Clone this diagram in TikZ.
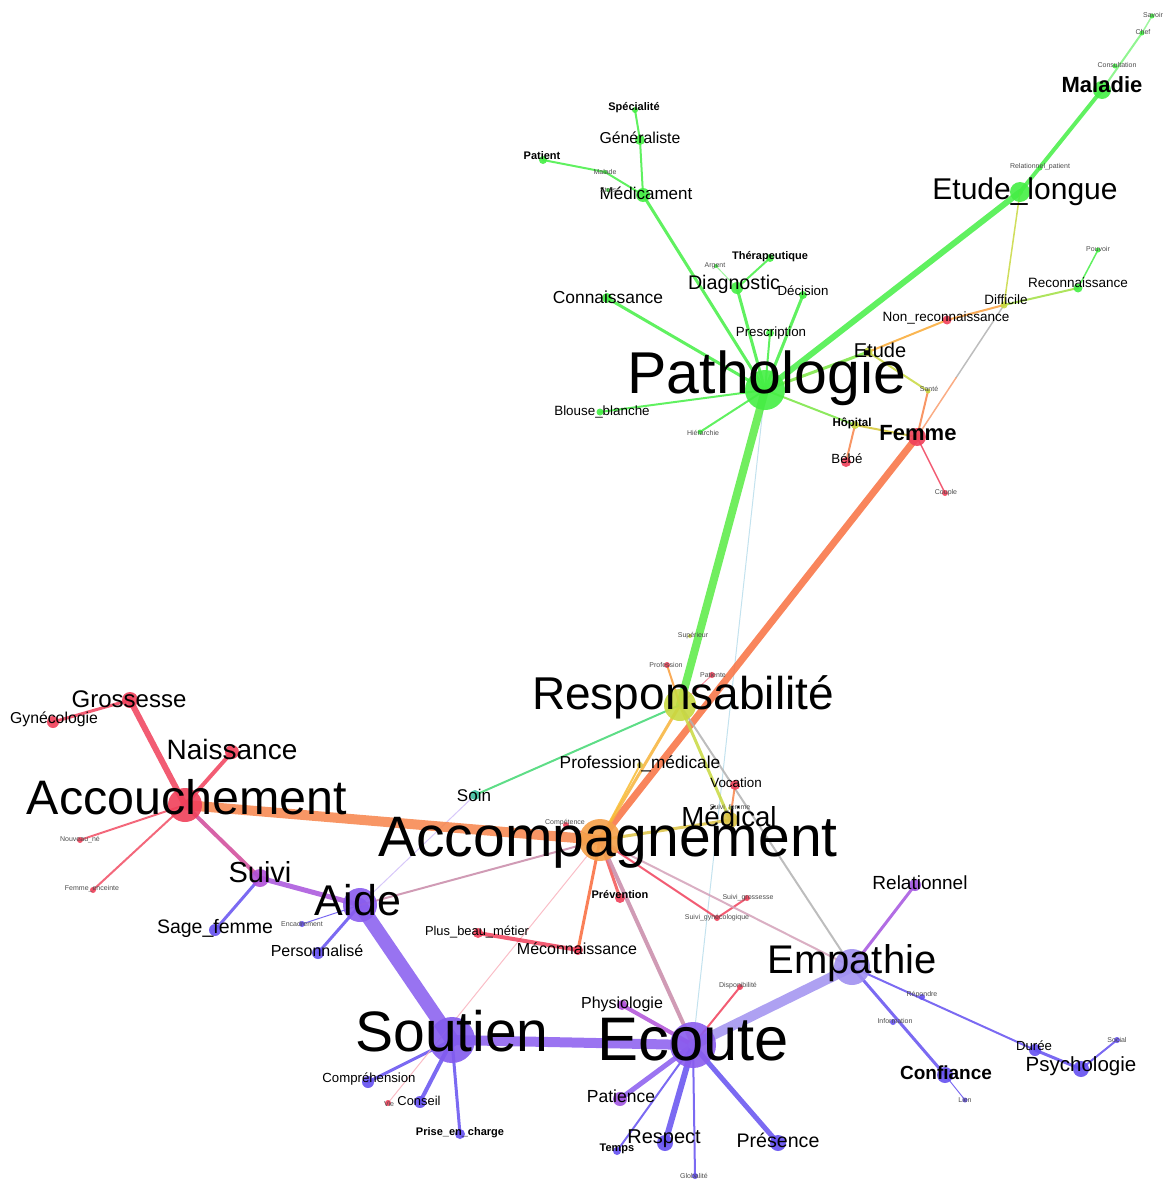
\documentclass[tikz,border=0pt]{standalone}
\usepackage{fontspec}
\setmainfont{Liberation Sans}
\usetikzlibrary{calc}
\definecolor{gG}{HTML}{44EE44}
\definecolor{gR}{HTML}{F0405A}
\definecolor{gO}{HTML}{F7844A}
\definecolor{gP}{HTML}{8A5CEE}
\definecolor{gB}{HTML}{6450F0}
\definecolor{gY}{HTML}{C8D840}
\definecolor{gA}{HTML}{F5A048}
\definecolor{gM}{HTML}{C88AA8}
\definecolor{gL}{HTML}{A090F0}
\definecolor{gT}{HTML}{40C0A0}
\definecolor{gV}{HTML}{B050D8}
\tikzset{
 lb/.style={font=\fontsize{#1}{#1}\selectfont, inner sep=0pt, text=black},
 lbb/.style={font=\bfseries\fontsize{#1}{#1}\selectfont, inner sep=0pt, text=black},
 tn/.style={font=\fontsize{7}{7}\selectfont, inner sep=0pt, text=black!70},
 dotn/.style={circle, fill=#1, inner sep=0pt, draw=none, opacity=0.9},
 ed/.style={line width=#1, line cap=round, opacity=0.85},
}
\newcommand{\dn}[4]{\node[dotn=#4, minimum size=#3pt] (#1-d) at (#2) {};}
\begin{document}
\begin{tikzpicture}[x=1pt,y=-1pt]
\useasboundingbox (0,0) rectangle (1165,1180);
% ---- coordinates
\coordinate (Pat) at (765,390);
\coordinate (Mal) at (1102,90);
\coordinate (Sav) at (1152,16);
\coordinate (Chef) at (1142,33);
\coordinate (Cons) at (1115,66);
\coordinate (Etl) at (1020,192);
\coordinate (Relp) at (1040,168);
\coordinate (Dif) at (1004,305);
\coordinate (Rec) at (1078,288);
\coordinate (Pou) at (1098,250);
\coordinate (Nrec) at (947,320);
\coordinate (Etu) at (868,352);
\coordinate (San) at (928,391);
\coordinate (Hop) at (855,425);
\coordinate (Beb) at (846,462);
\coordinate (Fem) at (917,437);
\coordinate (Cou) at (945,493);
\coordinate (Hie) at (700,432);
\coordinate (Bb) at (600,412);
\coordinate (Con) at (607,298);
\coordinate (Dia) at (737,288);
\coordinate (Arg) at (716,266);
\coordinate (The) at (770,258);
\coordinate (Dec) at (803,295);
\coordinate (Pre) at (770,333);
\coordinate (Med) at (643,195);
\coordinate (Gen) at (640,140);
\coordinate (Spe) at (635,110);
\coordinate (Pati) at (543,160);
\coordinate (Mala) at (605,172);
\coordinate (Str) at (608,190);
\coordinate (Res) at (680,705);
\coordinate (Sup) at (690,636);
\coordinate (Prof) at (667,665);
\coordinate (Ptte) at (712,675);
\coordinate (Pmed) at (640,765);
\coordinate (Voc) at (735,785);
\coordinate (Mdl) at (730,820);
\coordinate (Sfe) at (730,808);
\coordinate (Soin) at (475,795);
\coordinate (Acp) at (600,840);
\coordinate (Comp) at (566,825);
\coordinate (Prev) at (620,898);
\coordinate (Sgro) at (747,898);
\coordinate (Sgyn) at (717,918);
\coordinate (Meco) at (578,950);
\coordinate (Pbm) at (478,933);
\coordinate (Acc) at (185,805);
\coordinate (Gro) at (130,700);
\coordinate (Gyn) at (53,722);
\coordinate (Nai) at (232,752);
\coordinate (Nne) at (80,840);
\coordinate (Fen) at (93,890);
\coordinate (Sui) at (260,878);
\coordinate (Sfm) at (215,930);
\coordinate (Aide) at (360,905);
\coordinate (Enc) at (302,924);
\coordinate (Pers) at (318,953);
\coordinate (Sout) at (452,1040);
\coordinate (Cpr) at (368,1082);
\coordinate (Csl) at (420,1102);
\coordinate (Vie) at (388,1103);
\coordinate (Pec) at (460,1134);
\coordinate (Eco) at (693,1045);
\coordinate (Phy) at (622,1005);
\coordinate (Ptc) at (620,1099);
\coordinate (Tem) at (617,1151);
\coordinate (Rsp) at (665,1143);
\coordinate (Glo) at (695,1176);
\coordinate (Prs) at (778,1143);
\coordinate (Dis) at (740,987);
\coordinate (Emp) at (852,967);
\coordinate (Rel) at (915,885);
\coordinate (Rep) at (922,997);
\coordinate (Inf) at (893,1022);
\coordinate (Cnf) at (945,1075);
\coordinate (Lien) at (965,1100);
\coordinate (Dur) at (1035,1050);
\coordinate (Psy) at (1081,1069);
\coordinate (Soc) at (1117,1040);
% ---- edges
\draw[ed=1, color=black!25!cyan!30] (Pat) -- (Eco);
\draw[ed=6, gG] (Pat) -- (Etl);
\draw[ed=4, gG] (Etl) -- (Mal);
\draw[ed=2, gG!70] (Mal) -- (Chef);
\draw[ed=1.5, gG!60] (Chef) -- (Sav);
\draw[ed=8, gG!85!gY] (Pat) -- (Res);
\draw[ed=3, gG] (Pat) -- (Med);
\draw[ed=2, gG] (Med) -- (Gen);
\draw[ed=2, gG] (Gen) -- (Spe);
\draw[ed=2, gG] (Med) -- (Mala);
\draw[ed=2, gG] (Mala) -- (Pati);
\draw[ed=3, gG] (Pat) -- (Con);
\draw[ed=3, gG] (Pat) -- (Dia);
\draw[ed=2, gG] (Dia) -- (The);
\draw[ed=1, gG!60] (Dia) -- (Arg);
\draw[ed=3, gG] (Pat) -- (Dec);
\draw[ed=2, gG] (Pat) -- (Pre);
\draw[ed=2, gG] (Pat) -- (Bb);
\draw[ed=2, gG] (Pat) -- (Hie);
\draw[ed=3, gG!60!gY] (Pat) -- (Etu);
\draw[ed=2, gG!60!gY] (Pat) -- (Hop);
\draw[ed=1.5, gY] (Etl) -- (Dif);
\draw[ed=2, gY!70!gG] (Dif) -- (Rec);
\draw[ed=1.5, gG] (Rec) -- (Pou);
\draw[ed=2, gO!80!yellow] (Dif) -- (Nrec);
\draw[ed=2, gO!70!yellow] (Nrec) -- (Etu);
\draw[ed=1.5, black!30] (Dif) -- ($(Dif)!0.55!(Fem)$);
\draw[ed=1.5, gO!80] ($(Dif)!0.55!(Fem)$) -- (Fem);
\draw[ed=2, gY] (Etu) -- (San);
\draw[ed=2, gO] (San) -- (Fem);
\draw[ed=2, gY!80!orange] (Hop) -- (Fem);
\draw[ed=2, gO] (Hop) -- (Beb);
\draw[ed=1.5, gR] (Fem) -- (Cou);
\draw[ed=7, gO!85!red] (Fem) -- (Acp);
\draw[ed=2, gO!80!yellow] (Res) -- (Prof);
\draw[ed=1, gR!70] (Res) -- (Ptte);
\draw[ed=3, gA!80!yellow] (Res) -- (Acp);
\draw[ed=3, gY] (Res) -- (Mdl);
\draw[ed=2, gG!50!gT] (Res) -- (Soin);
\draw[ed=2, black!30] (Res) -- (Emp);
\draw[ed=2, gA!70!yellow] (Pmed) -- (Acp);
\draw[ed=2, gO] (Voc) -- (Mdl);
\draw[ed=3, gY!60!gA] (Mdl) -- (Acp);
\draw[ed=1, gP!40] (Soin) -- (Aide);
\draw[ed=10, gO] (Acc) -- (Acp);
\draw[ed=6, gR] (Acc) -- (Gro);
\draw[ed=3, gR] (Gro) -- (Gyn);
\draw[ed=4, gR] (Acc) -- (Nai);
\draw[ed=2, gR!90!pink] (Acc) -- (Nne);
\draw[ed=2, gR!90!pink] (Acc) -- (Fen);
\draw[ed=4, gR!50!gV] (Acc) -- (Sui);
\draw[ed=5, gV!80!gP] (Sui) -- (Aide);
\draw[ed=3, gB] (Sui) -- (Sfm);
\draw[ed=1, gB] (Aide) -- (Enc);
\draw[ed=3, gB] (Aide) -- (Pers);
\draw[ed=14, gP!90!gB] (Aide) -- (Sout);
\draw[ed=2, gM] (Aide) -- (Acp);
\draw[ed=10, gP] (Sout) -- (Eco);
\draw[ed=3, gB] (Sout) -- (Cpr);
\draw[ed=4, gB] (Sout) -- (Csl);
\draw[ed=3, gB] (Sout) -- (Pec);
\draw[ed=1, gR!40] (Acp) -- (Vie);
\draw[ed=1, gR] (Acp) -- (Comp);
\draw[ed=3, gR!70!gO] (Acp) -- (Prev);
\draw[ed=3, gO!80!red] (Acp) -- (Meco);
\draw[ed=4, gR] (Meco) -- (Pbm);
\draw[ed=2, gR] (Acp) -- (Sgyn);
\draw[ed=2, gR] (Sgyn) -- (Sgro);
\draw[ed=4, gM] (Acp) -- (Eco);
\draw[ed=2, gM!80] (Acp) -- (Emp);
\draw[ed=4, gV] (Eco) -- (Phy);
\draw[ed=5, gP] (Eco) -- (Ptc);
\draw[ed=2, gB] (Eco) -- (Tem);
\draw[ed=6, gB] (Eco) -- (Rsp);
\draw[ed=2, gB] (Eco) -- (Glo);
\draw[ed=5, gB] (Eco) -- (Prs);
\draw[ed=2, gR] (Eco) -- (Dis);
\draw[ed=10, gL] (Eco) -- (Emp);
\draw[ed=3, gV!70!gP] (Emp) -- (Rel);
\draw[ed=2, gB] (Emp) -- (Dur);
\draw[ed=3, gB] (Dur) -- (Psy);
\draw[ed=2, gB] (Psy) -- (Soc);
\draw[ed=3, gB] (Emp) -- (Cnf);
\draw[ed=1, gB] (Cnf) -- (Lien);
% ---- dots
\dn{Pat}{Pat}{40}{gG}
\dn{Mal}{Mal}{18}{gG}
\dn{Sav}{Sav}{5}{gG}
\dn{Chef}{Chef}{5}{gG}
\dn{Cons}{Cons}{5}{gG}
\dn{Etl}{Etl}{20}{gG}
\dn{Relp}{Relp}{5}{gG}
\dn{Dif}{Dif}{7}{gY}
\dn{Rec}{Rec}{9}{gG}
\dn{Pou}{Pou}{5}{gG}
\dn{Nrec}{Nrec}{9}{gR}
\dn{Etu}{Etu}{9}{gY}
\dn{San}{San}{5}{gY}
\dn{Hop}{Hop}{8}{gY}
\dn{Beb}{Beb}{10}{gR}
\dn{Fem}{Fem}{18}{gR}
\dn{Cou}{Cou}{6}{gR}
\dn{Hie}{Hie}{5}{gG}
\dn{Bb}{Bb}{7}{gG}
\dn{Con}{Con}{10}{gG}
\dn{Dia}{Dia}{12}{gG}
\dn{Arg}{Arg}{4}{gG}
\dn{The}{The}{8}{gG}
\dn{Dec}{Dec}{8}{gG}
\dn{Pre}{Pre}{8}{gG}
\dn{Med}{Med}{14}{gG}
\dn{Gen}{Gen}{10}{gG}
\dn{Spe}{Spe}{6}{gG}
\dn{Pati}{Pati}{8}{gG}
\dn{Mala}{Mala}{4}{gG}
\dn{Str}{Str}{4}{gG}
\dn{Res}{Res}{32}{gY}
\dn{Sup}{Sup}{4}{gY}
\dn{Prof}{Prof}{6}{gR}
\dn{Ptte}{Ptte}{6}{gR}
\dn{Pmed}{Pmed}{6}{gY!70!gA}
\dn{Voc}{Voc}{10}{gR}
\dn{Mdl}{Mdl}{16}{gY!60!gA}
\dn{Sfe}{Sfe}{4}{gY}
\dn{Soin}{Soin}{10}{gT}
\dn{Acp}{Acp}{42}{gA}
\dn{Comp}{Comp}{6}{gR}
\dn{Prev}{Prev}{10}{gR}
\dn{Sgro}{Sgro}{6}{gR}
\dn{Sgyn}{Sgyn}{6}{gR}
\dn{Meco}{Meco}{10}{gR}
\dn{Pbm}{Pbm}{10}{gR}
\dn{Acc}{Acc}{34}{gR}
\dn{Gro}{Gro}{16}{gR}
\dn{Gyn}{Gyn}{12}{gR}
\dn{Nai}{Nai}{14}{gR}
\dn{Nne}{Nne}{6}{gR}
\dn{Fen}{Fen}{6}{gR}
\dn{Sui}{Sui}{18}{gV}
\dn{Sfm}{Sfm}{12}{gB}
\dn{Aide}{Aide}{34}{gP}
\dn{Enc}{Enc}{6}{gB}
\dn{Pers}{Pers}{12}{gB}
\dn{Sout}{Sout}{46}{gP!80!gB}
\dn{Cpr}{Cpr}{12}{gB}
\dn{Csl}{Csl}{12}{gB}
\dn{Vie}{Vie}{6}{gR}
\dn{Pec}{Pec}{10}{gB}
\dn{Eco}{Eco}{46}{gP}
\dn{Phy}{Phy}{10}{gV}
\dn{Ptc}{Ptc}{14}{gV!60!gP}
\dn{Tem}{Tem}{8}{gB}
\dn{Rsp}{Rsp}{16}{gB}
\dn{Glo}{Glo}{6}{gB}
\dn{Prs}{Prs}{16}{gB}
\dn{Dis}{Dis}{6}{gR}
\dn{Emp}{Emp}{36}{gL}
\dn{Rel}{Rel}{12}{gV!60!gP}
\dn{Rep}{Rep}{6}{gB}
\dn{Inf}{Inf}{6}{gB}
\dn{Cnf}{Cnf}{16}{gB}
\dn{Lien}{Lien}{5}{gB}
\dn{Dur}{Dur}{12}{gB}
\dn{Psy}{Psy}{16}{gB}
\dn{Soc}{Soc}{6}{gB}
% ---- labels
\node[lb=59] (Pat-l) at (767,378) {Pathologie};
\node[lbb=22] (Mal-l) at (1102,85) {Maladie};
\node[tn] (Sav-l) at (1153,15) {Savoir};
\node[tn] (Chef-l) at (1143,32) {Chef};
\node[tn] (Cons-l) at (1117,65) {Consultation};
\node[lb=30] (Etl-l) at (1025,192) {Etude\_longue};
\node[tn] (Relp-l) at (1040,167) {Relationnel\_patient};
\node[lb=13.5] (Dif-l) at (1006,300) {Difficile};
\node[lb=13.5] (Rec-l) at (1078,283) {Reconnaissance};
\node[tn] (Pou-l) at (1098,249) {Pouvoir};
\node[lb=13.5] (Nrec-l) at (946,318) {Non\_reconnaissance};
\node[lb=20] (Etu-l) at (880,350) {Etude};
\node[tn] (San-l) at (929,389) {Santé};
\node[lbb=11.5] (Hop-l) at (852,423) {Hôpital};
\node[lb=13.3] (Beb-l) at (847,459) {Bébé};
\node[lbb=22] (Fem-l) at (918,433) {Femme};
\node[tn] (Cou-l) at (946,493) {Couple};
\node[tn] (Hie-l) at (703,433) {Hiérarchie};
\node[lb=13.4] (Bb-l) at (602,412) {Blouse\_blanche};
\node[lb=17.4] (Con-l) at (608,297) {Connaissance};
\node[lb=19.7] (Dia-l) at (734,284) {Diagnostic};
\node[tn] (Arg-l) at (715,266) {Argent};
\node[lbb=11] (The-l) at (770,257) {Thérapeutique};
\node[lb=13.3] (Dec-l) at (803,291) {Décision};
\node[lb=13.3] (Pre-l) at (771,333) {Prescription};
\node[lb=17] (Med-l) at (646,193) {Médicament};
\node[lb=15.8] (Gen-l) at (640,138) {Généraliste};
\node[lbb=11] (Spe-l) at (634,108) {Spécialité};
\node[lbb=11] (Pati-l) at (542,156) {Patient};
\node[tn] (Mala-l) at (605,172) {Malade};
\node[tn] (Str-l) at (610,190) {Stress};
\node[lb=46] (Res-l) at (683,697) {Responsabilité};
\node[tn] (Sup-l) at (693,636) {Supérieur};
\node[tn] (Prof-l) at (666,665) {Profession};
\node[tn] (Ptte-l) at (713,675) {Patiente};
\node[lb=17.3] (Pmed-l) at (640,764) {Profession\_médicale};
\node[lb=13.4] (Voc-l) at (736,783) {Vocation};
\node[lb=27.6] (Mdl-l) at (729,816) {Médical};
\node[tn] (Sfe-l) at (730,808) {Suivi\_femme};
\node[lb=17] (Soin-l) at (474,795) {Soin};
\node[lb=57] (Acp-l) at (608,843) {Accompagnement};
\node[tn] (Comp-l) at (565,823) {Compétence};
\node[lbb=11] (Prev-l) at (620,895) {Prévention};
\node[tn] (Sgro-l) at (748,898) {Suivi\_grossesse};
\node[tn] (Sgyn-l) at (717,918) {Suivi\_gynécologique};
\node[lb=16] (Meco-l) at (577,949) {Méconnaissance};
\node[lb=12.9] (Pbm-l) at (477,932) {Plus\_beau\_métier};
\node[lb=48.4] (Acc-l) at (187,797) {Accouchement};
\node[lb=24] (Gro-l) at (129,699) {Grossesse};
\node[lb=15.8] (Gyn-l) at (54,719) {Gynécologie};
\node[lb=28] (Nai-l) at (232,749) {Naissance};
\node[tn] (Nne-l) at (80,840) {Nouveau\_né};
\node[tn] (Fen-l) at (92,889) {Femme\_enceinte};
\node[lb=29] (Sui-l) at (260,872) {Suivi};
\node[lb=19.5] (Sfm-l) at (215,928) {Sage\_femme};
\node[lb=43] (Aide-l) at (358,900) {Aide};
\node[tn] (Enc-l) at (302,924) {Encadrement};
\node[lb=16] (Pers-l) at (317,951) {Personnalisé};
\node[lb=57] (Sout-l) at (452,1031) {Soutien};
\node[lb=13.2] (Cpr-l) at (369,1079) {Compréhension};
\node[lb=12.9] (Csl-l) at (419,1101) {Conseil};
\node[tn] (Vie-l) at (389,1104) {Vie};
\node[lbb=11] (Pec-l) at (460,1133) {Prise\_en\_charge};
\node[lb=61.5] (Eco-l) at (693,1040) {Ecoute};
\node[lb=16] (Phy-l) at (622,1004) {Physiologie};
\node[lb=17.5] (Ptc-l) at (621,1096) {Patience};
\node[lbb=11] (Tem-l) at (617,1149) {Temps};
\node[lb=20] (Rsp-l) at (664,1139) {Respect};
\node[tn] (Glo-l) at (694,1176) {Globalité};
\node[lb=19.6] (Prs-l) at (778,1140) {Présence};
\node[tn] (Dis-l) at (738,986) {Disponibilité};
\node[lb=40] (Emp-l) at (852,963) {Empathie};
\node[lb=19] (Rel-l) at (920,883) {Relationnel};
\node[tn] (Rep-l) at (922,995) {Répondre};
\node[tn] (Inf-l) at (895,1021) {Information};
\node[lbb=19] (Cnf-l) at (946,1073) {Confiance};
\node[tn] (Lien-l) at (965,1100) {Lien};
\node[lb=13.2] (Dur-l) at (1034,1046) {Durée};
\node[lb=20.5] (Psy-l) at (1081,1066) {Psychologie};
\node[tn] (Soc-l) at (1117,1040) {Social};
\end{tikzpicture}
\end{document}
